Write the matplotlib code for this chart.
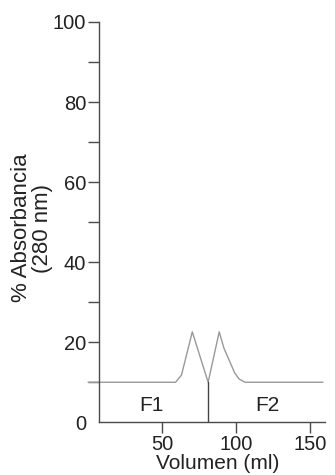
import matplotlib
matplotlib.use("Agg")
import matplotlib.pyplot as plt

plt.rcParams['font.family'] = ['Liberation Sans', 'DejaVu Sans']

# chromatogram trace (volume in ml, % absorbance at 280 nm)
volumen = [0, 59, 63, 70.3, 81, 88.5, 91.7, 99, 102, 106, 158.5]
absorbancia = [10, 10, 11.8, 22.6, 10, 22.6, 18.5, 12.3, 10.8, 10, 10]

corte_fracciones = 81
fracciones = ["F1", "F2"]
pos_fracciones = [43, 121]

xticks = [50, 100, 150]
yticks = list(range(0, 101, 10))
yticklabels = ["0", "", "20", "", "40", "", "60", "", "80", "", "100"]

fig = plt.figure(figsize=(3.35, 4.75), dpi=100)
ax = fig.add_axes([88.3 / 335, 52.7 / 475, 236.7 / 335, 400.3 / 475])

axis_col = "#4a4a4a"
ax.plot(volumen, absorbancia, color="#999999", lw=1.0, clip_on=False)
ax.plot([corte_fracciones, corte_fracciones], [0, 10], color="#444444", lw=1.0)

for nombre, xp in zip(fracciones, pos_fracciones):
    ax.text(xp, 4.3, nombre, ha="center", va="center", fontsize=15, color="#222222")

ax.set_xlim(0, 160)
ax.set_ylim(0, 100)

for s in ["top", "right"]:
    ax.spines[s].set_visible(False)
ax.spines["left"].set_position(("data", 7))
ax.spines["bottom"].set_bounds(7, 160)
for s in ["left", "bottom"]:
    ax.spines[s].set_color(axis_col)
    ax.spines[s].set_linewidth(1.0)

ax.set_xticks(xticks)
ax.set_yticks(yticks)
ax.set_yticklabels(yticklabels)
ax.tick_params(axis="both", direction="out", length=8, width=1.0,
               color=axis_col, labelsize=14.5, labelcolor="#222222")
ax.tick_params(axis="y", pad=1)
ax.tick_params(axis="x", pad=1)
ax.yaxis.get_major_ticks()[0].tick1line.set_visible(False)

ax.set_xlabel("Volumen (ml)", fontsize=15, color="#222222")
ax.xaxis.set_label_coords(0.548, -0.079)
ax.set_ylabel("% Absorbancia\n(280 nm)", fontsize=16, color="#222222",
              linespacing=1.0)
ax.yaxis.set_label_coords(-0.15, 0.485)

fig.savefig("out.png", dpi=100)
